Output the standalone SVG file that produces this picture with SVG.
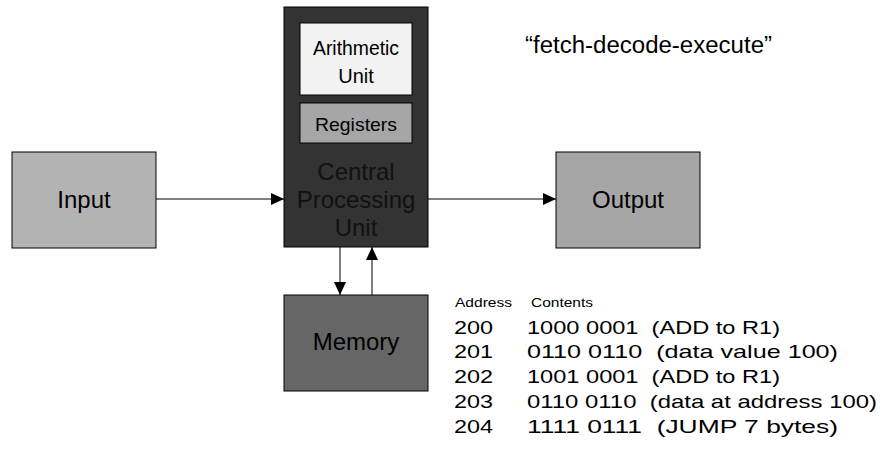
<svg xmlns="http://www.w3.org/2000/svg" width="880" height="456" viewBox="0 0 880 456">
<defs>
<marker id="ah" markerWidth="13" markerHeight="12" refX="13" refY="6" orient="auto" markerUnits="userSpaceOnUse">
<path d="M0,0 L13,6 L0,12 Z" fill="#000"/>
</marker>
<style>
text{font-family:"Liberation Sans",Arial,sans-serif;}
.box{stroke:#000;stroke-width:1;}
.lbl{font-size:24px;text-anchor:middle;fill:#000;}
.cpu{fill:#111111;}
.sub{font-size:20px;text-anchor:middle;fill:#000;}
.conn{stroke:#000;stroke-width:1;fill:none;marker-end:url(#ah);}
.tbl{font-size:19px;fill:#000;white-space:pre;}
.hdr{font-size:13px;fill:#000;}
</style>
</defs>
<rect width="880" height="456" fill="#fff"/>
<g id="input">
<rect class="box" x="12" y="152" width="144" height="96" fill="#b3b3b3"/>
<text class="lbl" x="84" y="208">Input</text>
</g>
<g id="cpu">
<rect class="box" x="284" y="7" width="144" height="240" fill="#333333"/>
<text class="lbl cpu" x="356" y="180">Central</text>
<text class="lbl cpu" x="356" y="208">Processing</text>
<text class="lbl cpu" x="356" y="236">Unit</text>
</g>
<g id="arith">
<rect class="box" x="300" y="23" width="112" height="72" fill="#f2f2f2"/>
<text class="sub" x="356" y="55" textLength="86" lengthAdjust="spacingAndGlyphs">Arithmetic</text>
<text class="sub" x="356" y="83">Unit</text>
</g>
<g id="registers">
<rect class="box" x="300" y="103" width="112" height="40" fill="#a6a6a6"/>
<text class="sub" x="356" y="131" textLength="82" lengthAdjust="spacingAndGlyphs" style="font-size:19px">Registers</text>
</g>
<g id="output">
<rect class="box" x="556" y="152" width="144" height="96" fill="#a6a6a6"/>
<text class="lbl" x="628" y="208">Output</text>
</g>
<g id="memory">
<rect class="box" x="284" y="295" width="144" height="96" fill="#666666"/>
<text class="lbl" x="356" y="350">Memory</text>
</g>
<g id="connectors">
<line class="conn" x1="156" y1="199" x2="284" y2="199"/>
<line class="conn" x1="428" y1="199" x2="556" y2="199"/>
<line class="conn" x1="340" y1="247" x2="340" y2="295"/>
<line class="conn" x1="372" y1="295" x2="372" y2="247"/>
</g>
<g id="notes" xml:space="preserve">
<text x="525" y="53" style="font-size:23px" textLength="247" lengthAdjust="spacingAndGlyphs">“fetch-decode-execute”</text>
<text class="hdr" x="455" y="307" textLength="57" lengthAdjust="spacingAndGlyphs">Address</text>
<text class="hdr" x="531" y="307" textLength="62" lengthAdjust="spacingAndGlyphs">Contents</text>
<text class="tbl" x="454" y="334" textLength="39" lengthAdjust="spacingAndGlyphs">200</text>
<text class="tbl" x="527" y="334" textLength="253" lengthAdjust="spacingAndGlyphs">1000 0001  (ADD to R1)</text>
<text class="tbl" x="454" y="358" textLength="39" lengthAdjust="spacingAndGlyphs">201</text>
<text class="tbl" x="527" y="358" textLength="311" lengthAdjust="spacingAndGlyphs">0110 0110  (data value 100)</text>
<text class="tbl" x="454" y="383" textLength="39" lengthAdjust="spacingAndGlyphs">202</text>
<text class="tbl" x="527" y="383" textLength="253" lengthAdjust="spacingAndGlyphs">1001 0001  (ADD to R1)</text>
<text class="tbl" x="454" y="408" textLength="39" lengthAdjust="spacingAndGlyphs">203</text>
<text class="tbl" x="527" y="408" textLength="350" lengthAdjust="spacingAndGlyphs">0110 0110  (data at address 100)</text>
<text class="tbl" x="454" y="433" textLength="39" lengthAdjust="spacingAndGlyphs">204</text>
<text class="tbl" x="527" y="433" textLength="311" lengthAdjust="spacingAndGlyphs">1111 0111  (JUMP 7 bytes)</text>
</g>
</svg>
